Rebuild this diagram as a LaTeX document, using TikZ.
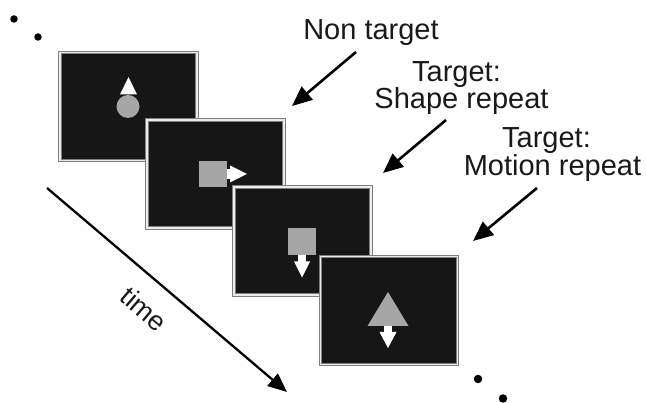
\documentclass[tikz,border=0pt]{standalone}
\usepackage{fontspec}
\setmainfont{Liberation Sans}
\usetikzlibrary{arrows.meta,calc}
\definecolor{screen}{HTML}{161616}
\definecolor{stim}{HTML}{A6A6A6}
\begin{document}
\begin{tikzpicture}[x=1pt,y=-1pt,
  screenbox/.style={rectangle, inner sep=0pt, minimum width=137pt, minimum height=108pt,
    fill=screen, draw=black!50, line width=1.1pt, double=black!8, double distance=1.5pt},
  stimshape/.style={fill=stim, draw=none},
  motion/.style={fill=white, draw=none},
  label/.style={font=\fontsize{29}{27}\selectfont, inner sep=0pt, anchor=base, text=black!90},
  pointer/.style={line width=2.6pt, -{Triangle[length=20pt,width=17pt]}},
  timeline/.style={line width=2.3pt, -{Triangle[length=19pt,width=16pt]}},
  dot/.style={circle, fill=black, inner sep=0pt, minimum size=#1}]
\useasboundingbox (0,0) rectangle (646,403);

% the four screens, each drawn over the previous one
\node[screenbox] (f1) at (128.5,106.5) {};
\node[screenbox] (f2) at (215.5,174) {};
\node[screenbox] (f3) at (302.5,241) {};
\node[screenbox] (f4) at (389,310.5) {};

% screen 1: disc moving up
\fill[stimshape] ($(f1.center)+(-0.5,0)$) circle (11.5);
\fill[motion] ($(f1.center)+(0,-29.5)$) -- ++(8.5,17.5) -- ++(-17,0) -- cycle;

% screen 2: square moving right
\fill[stimshape] ($(f2.center)+(-16.5,-13)$) rectangle ++(28,26);
\fill[motion] ($(f2.center)+(11,-5)$) rectangle ++(5,10);
\fill[motion] ($(f2.center)+(31.5,0)$) -- ++(-17,-8.5) -- ++(0,17) -- cycle;

% screen 3: square moving down
\fill[stimshape] ($(f3.center)+(-14.5,-13)$) rectangle ++(28,27);
\fill[motion] ($(f3.center)+(-4.5,14)$) rectangle ++(8,7);
\fill[motion] ($(f3.center)+(-0.5,36.5)$) -- ++(-8,-16) -- ++(16,0) -- cycle;

% screen 4: triangle moving down
\fill[stimshape] ($(f4.center)+(-1,-18.5)$) -- ++(20.5,34) -- ++(-41,0) -- cycle;
\fill[motion] ($(f4.center)+(-5,15.5)$) rectangle ++(8,7);
\fill[motion] ($(f4.center)+(-1,37.5)$) -- ++(-8.5,-16) -- ++(17,0) -- cycle;

% sequence dots
\node[dot=7.5pt] (d1) at (14,19) {};
\node[dot=7.5pt] (d2) at (38,37) {};
\node[dot=8.5pt] (d3) at (478,379) {};
\node[dot=8.5pt] (d4) at (503,398.5) {};

% time axis
\coordinate (t0) at (47,188);
\coordinate (t1) at (287,392);
\draw[timeline] (t0) -- (t1);
\node[font=\fontsize{27}{27}\selectfont, rotate=-40.4, inner sep=0pt, text=black!90] (tl) at (144,309) {time};

% condition labels
\node[label] (l1) at (371,40) {Non target};
\node[label] (l2a) at (456.5,82) {Target:};
\node[label] (l2b) at (461.5,109) {Shape repeat};
\node[label] (l3a) at (546.5,148) {Target:};
\node[label] (l3b) at (552.5,176) {Motion repeat};

\coordinate (p1s) at (356,52);  \coordinate (p1e) at (292,106);
\coordinate (p2s) at (446,120); \coordinate (p2e) at (383,173);
\coordinate (p3s) at (537,188); \coordinate (p3e) at (473,241);
\draw[pointer] (p1s) -- (p1e);
\draw[pointer] (p2s) -- (p2e);
\draw[pointer] (p3s) -- (p3e);
\end{tikzpicture}
\end{document}
